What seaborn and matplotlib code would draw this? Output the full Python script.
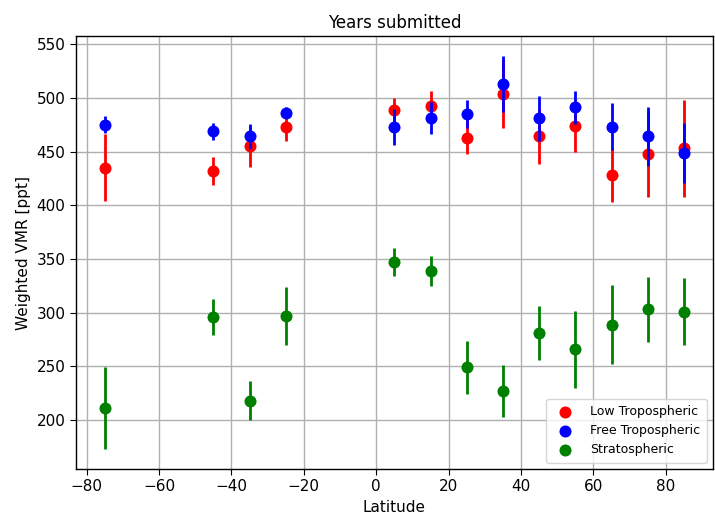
import numpy as np
import pandas as pd
import matplotlib
matplotlib.use("Agg")
import matplotlib.pyplot as plt
import seaborn as sns

# Latitude bins (centres)
lat = [-75, -45, -35, -25, 5, 15, 25, 35, 45, 55, 65, 75, 85]

# Weighted VMR [ppt] and errors per layer
low_vmr = [435, 432, 455, 473, 489, 492, 463, 504, 464, 474, 428, 448, 453]
low_err = [31, 13, 19, 13, 11, 14, 15, 32, 26, 24, 25, 40, 45]
free_vmr = [475, 469, 464, 486, 473, 481, 485, 513, 481, 491, 473, 464, 449]
free_err = [8, 8, 12, 5, 17, 15, 13, 26, 21, 15, 22, 27, 28]
strat_vmr = [211, 296, 218, 297, 347, 339, 249, 227, 281, 266, 289, 303, 301]
strat_err = [38, 17, 18, 27, 13, 14, 25, 24, 25, 36, 37, 30, 31]

series = [
    ("Low Tropospheric", low_vmr, low_err, "red"),
    ("Free Tropospheric", free_vmr, free_err, "blue"),
    ("Stratospheric", strat_vmr, strat_err, "green"),
]

sns.set_style("white")
plt.rcParams["font.family"] = ["DejaVu Sans"]
plt.rcParams["text.color"] = "black"
plt.rcParams["axes.labelcolor"] = "black"
plt.rcParams["xtick.color"] = "black"
plt.rcParams["ytick.color"] = "black"

fig, ax = plt.subplots(figsize=(7.15, 5.18), dpi=100)

for i, (name, vmr, err, col) in enumerate(series):
    df = pd.DataFrame({"Latitude": lat, "VMR": vmr, "err": err})
    ax.errorbar(df["Latitude"], df["VMR"], yerr=df["err"], fmt="none",
                ecolor=col, elinewidth=2, zorder=2 + 2 * i)
    sns.scatterplot(x="Latitude", y="VMR", data=df, color=col, s=75,
                    edgecolor=col, linewidth=0, label=name, ax=ax,
                    zorder=3 + 2 * i)

ax.set_title("Years submitted", fontsize=12, color="black")
ax.set_xlabel("Latitude", fontsize=11)
ax.set_ylabel("Weighted VMR [ppt]", fontsize=11)
ax.tick_params(axis="both", labelsize=11, direction="out", length=4,
               color="black", bottom=True, left=True)
ax.grid(True, color="#b0b0b0", linewidth=1)
ax.set_axisbelow(True)
for sp in ax.spines.values():
    sp.set_color("black")
    sp.set_linewidth(1)

ax.legend(loc="lower right", fontsize=9, framealpha=0.8,
          handletextpad=1.0, borderpad=0.5)

plt.subplots_adjust(left=0.106, right=0.997, bottom=0.095, top=0.93)
plt.savefig("out.png", dpi=100)
